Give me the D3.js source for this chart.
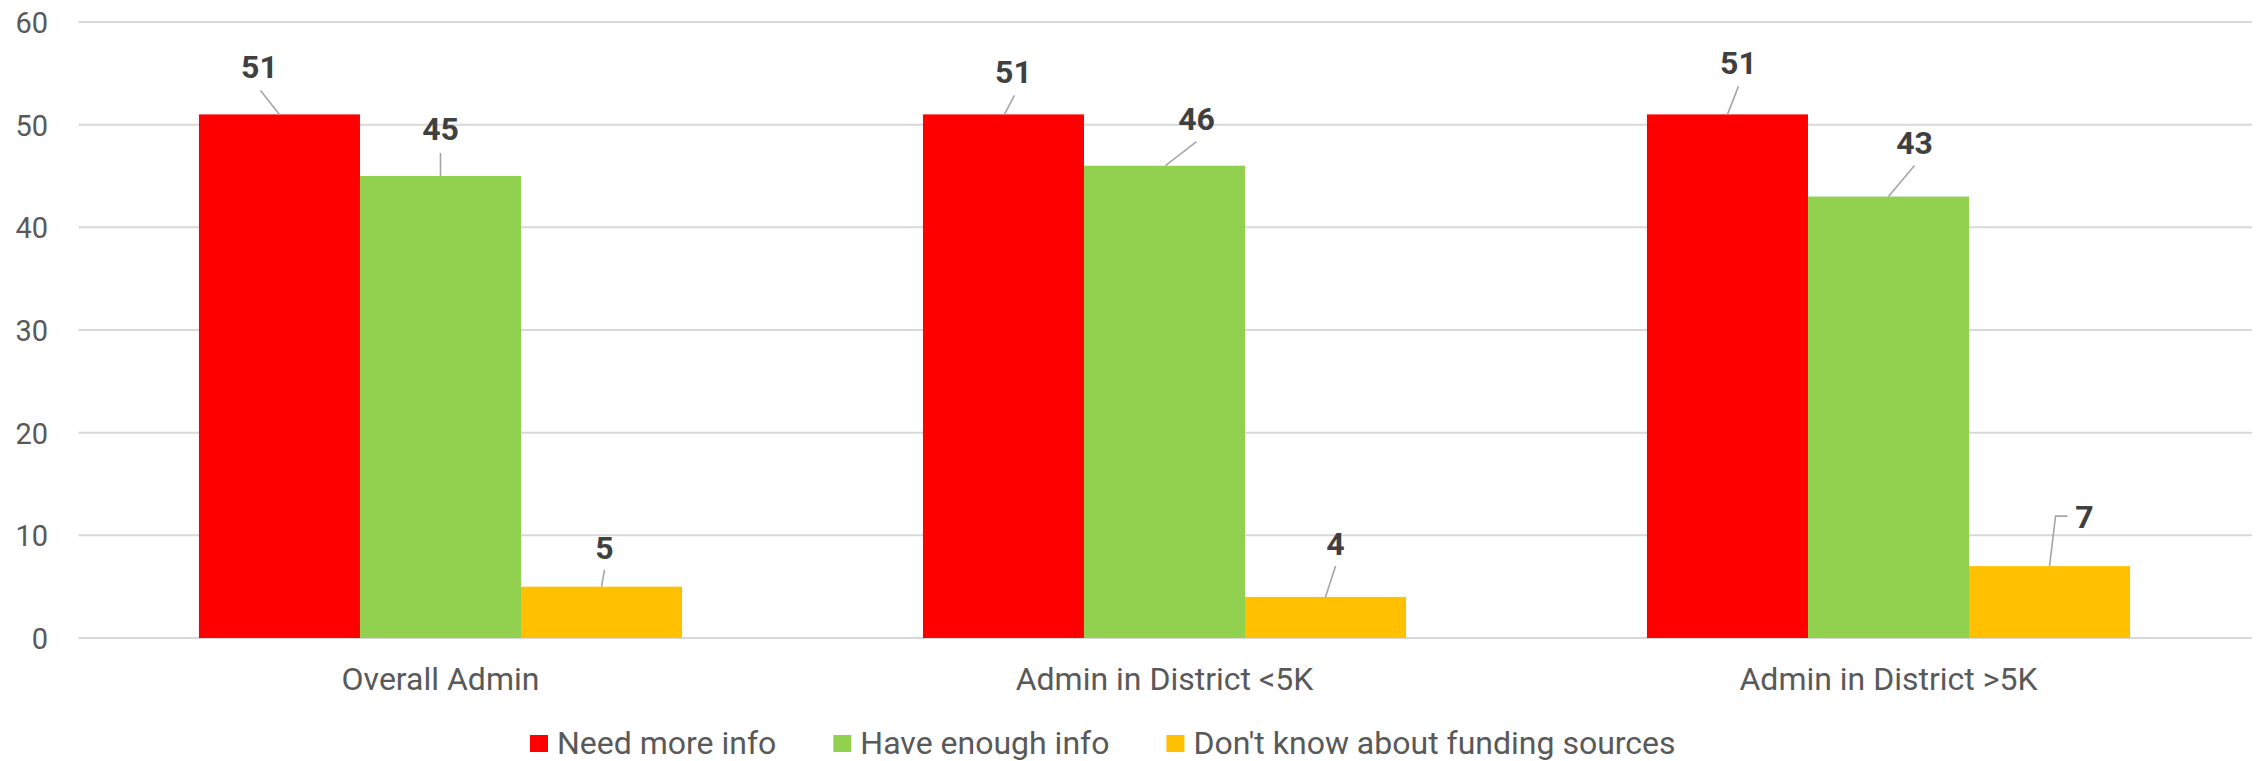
<!DOCTYPE html>
<html>
<head>
<meta charset="utf-8">
<script src="https://cdn.jsdelivr.net/npm/d3@7"></script>
<style>
  html, body { margin: 0; padding: 0; background: #fff; }
  svg { display: block; font-family: Roboto, "Noto Sans", sans-serif; }
</style>
</head>
<body>
<svg id="chart" width="2257" height="761"></svg>
<script>
// ---- data ----
const categories = ["Overall Admin", "Admin in District <5K", "Admin in District >5K"];
const seriesNames = ["Need more info", "Have enough info", "Don't know about funding sources"];
const needMoreInfo = [51, 51, 51];
const haveEnoughInfo = [45, 46, 43];
const dontKnow = [5, 4, 7];
const yTicks = [0, 10, 20, 30, 40, 50, 60];

// ---- styles / layout (not data) ----
const colors = ["#FF0000", "#92D050", "#FFC000"];
// label offsets relative to bar top-centre: [dx, dy(baseline), leaderPoints...]
const labelLayout = [
  [ {dx:-20, dy:-36, pts:[[-19,-24],[0,0]]}, {dx:0, dy:-36, pts:[[0,-23],[0,0]]}, {dx:3, dy:-28, pts:[[3,-17],[0,0]]} ],
  [ {dx:10, dy:-31, pts:[[11,-19],[1,0]]}, {dx:32, dy:-36, pts:[[32,-24],[1,0]]}, {dx:10, dy:-42, pts:[[10,-31],[0,0]]} ],
  [ {dx:11, dy:-40, pts:[[11,-28],[0,0]]}, {dx:26, dy:-43, pts:[[26,-31],[0,0]]}, {dx:35, dy:-38, pts:[[18,-50],[6,-50],[0,0]]} ]
];

const values = [needMoreInfo, haveEnoughInfo, dontKnow];
const table = categories.map((c, i) => ({
  category: c,
  items: seriesNames.map((s, j) => ({ series: s, value: values[j][i], si: j, ci: i }))
}));

const svg = d3.select("#chart");
const plotLeft = 78.5, plotRight = 2250.5, plotTop = 22, plotBottom = 638;

const x0 = d3.scaleBand().domain(categories).range([plotLeft, plotRight]).paddingInner(0).paddingOuter(0);
const x1 = d3.scaleBand().domain(seriesNames).range([0, x0.bandwidth()]).paddingInner(0).paddingOuter(0.748);
const y = d3.scaleLinear().domain([0, 60]).range([plotBottom, plotTop]);

// gridlines
svg.append("g")
  .selectAll("line").data(yTicks).join("line")
  .attr("x1", plotLeft).attr("x2", 2252)
  .attr("y1", d => y(d)).attr("y2", d => y(d))
  .attr("stroke", "#D9D9D9").attr("stroke-width", 2);

// y axis labels
const yAxis = d3.axisLeft(y).tickValues(yTicks).tickSize(0).tickPadding(0);
const yg = svg.append("g").attr("transform", `translate(48,0)`).call(yAxis);
yg.select(".domain").remove();
yg.selectAll("text")
  .attr("font-family", "Roboto").attr("font-size", 29).attr("fill", "#595959").attr("dy", "0.36em");

// bars
const groups = svg.append("g").selectAll("g").data(table).join("g")
  .attr("transform", d => `translate(${x0(d.category)},0)`);
groups.selectAll("rect").data(d => d.items).join("rect")
  .attr("x", d => x1(d.series))
  .attr("width", x1.bandwidth())
  .attr("y", d => y(d.value))
  .attr("height", d => y(0) - y(d.value))
  .attr("fill", d => colors[d.si]);

// leaders and labels
const lbl = svg.append("g");
table.forEach(g => g.items.forEach(d => {
  const cx = x0(g.category) + x1(d.series) + x1.bandwidth() / 2;
  const ty = y(d.value);
  const L = labelLayout[d.ci][d.si];
  lbl.append("polyline")
    .attr("points", L.pts.map(p => [cx + p[0], ty + p[1]].join(",")).join(" "))
    .attr("fill", "none").attr("stroke", "#A6A6A6").attr("stroke-width", 1.6);
  lbl.append("text")
    .attr("x", cx + L.dx).attr("y", ty + L.dy)
    .attr("text-anchor", "middle")
    .attr("font-family", "Roboto").attr("font-weight", "bold").attr("font-size", 32)
    .attr("fill", "#404040")
    .text(d.value);
}));

// category axis
const xAxis = d3.axisBottom(x0).tickSize(0).tickPadding(0);
const xg = svg.append("g").attr("transform", `translate(0,690)`).call(xAxis);
xg.select(".domain").remove();
xg.selectAll("text")
  .attr("font-family", "Roboto").attr("font-size", 32).attr("fill", "#595959").attr("dy", 0);

// legend
const legend = svg.append("g");
let lx = 530;
seriesNames.forEach((s, i) => {
  legend.append("rect").attr("x", lx).attr("y", 735).attr("width", 18).attr("height", 17).attr("fill", colors[i]);
  const t = legend.append("text").attr("x", lx + 27).attr("y", 754)
    .attr("font-family", "Roboto").attr("font-size", 32).attr("fill", "#595959").text(s);
  lx += 27 + t.node().getComputedTextLength() + 57;
});
</script>
</body>
</html>
